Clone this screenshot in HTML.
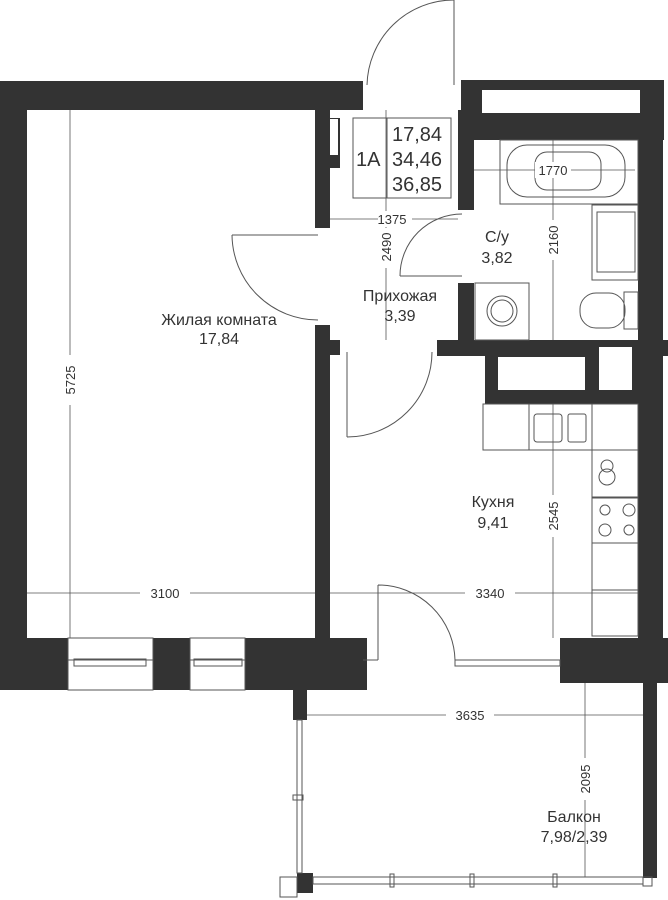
<!DOCTYPE html>
<html><head><meta charset="utf-8"><style>
html,body{margin:0;padding:0;background:#fff}
svg{display:block}
text{font-family:"Liberation Sans",sans-serif;fill:#333}
</style></head><body>
<svg width="668" height="900" viewBox="0 0 668 900" xmlns="http://www.w3.org/2000/svg">
<g fill="#333">
<rect x="0" y="81" width="363" height="29"/>
<rect x="0" y="81" width="27" height="580"/>
<rect x="315" y="110" width="15" height="118"/>
<rect x="328" y="118" width="12" height="50"/>
<rect x="315" y="325" width="15" height="315"/>
<rect x="328" y="340" width="12" height="15"/>
<rect x="458" y="110" width="16" height="100"/>
<rect x="461" y="81" width="13" height="30"/>
<rect x="461" y="80" width="203" height="60"/>
<rect x="458" y="283" width="16" height="60"/>
<rect x="437" y="340" width="231" height="16"/>
<rect x="638" y="80" width="25" height="570"/>
<rect x="485" y="356" width="153" height="48"/>
<rect x="0" y="638" width="68" height="52"/>
<rect x="153" y="638" width="37" height="52"/>
<rect x="245" y="638" width="122" height="52"/>
<rect x="293" y="690" width="14" height="30"/>
<rect x="560" y="638" width="108" height="45"/>
<rect x="643" y="683" width="14" height="195"/>
<rect x="297" y="873" width="16" height="20"/>
</g>
<g fill="#fff">
<rect x="330" y="119" width="8" height="36"/>
<rect x="482" y="90" width="158" height="23"/>
<rect x="498" y="357" width="87" height="33"/>
<rect x="599" y="347" width="33" height="43"/>
</g>
<g fill="none" stroke="#555" stroke-width="1">
<rect x="68" y="638" width="85" height="52"/><line x1="68" y1="660" x2="153" y2="660"/><rect x="74" y="659" width="72" height="7"/>
<rect x="190" y="638" width="55" height="52"/><line x1="190" y1="660" x2="245" y2="660"/><rect x="194" y="659" width="48" height="7"/>
<rect x="455" y="660" width="105" height="6"/>
<line x1="363" y1="660" x2="378" y2="660"/>
<path d="M367 85 A87 87 0 0 1 454 0"/><line x1="454" y1="0" x2="454" y2="85"/>
<path d="M232 235 L318 235 M232 235 A86 86 0 0 0 318 320"/>
<path d="M400 276 L462 276 M400 276 A62 62 0 0 1 462 214"/>
<path d="M347 352 L347 437 M347 437 A85 85 0 0 0 432 352"/>
<path d="M378 585 L378 660 M378 585 A77 77 0 0 1 455 660"/>
<rect x="297" y="720" width="5" height="153"/>
<rect x="293" y="795" width="10" height="5"/>
<rect x="313" y="877" width="330" height="7"/>
<rect x="390" y="874" width="4" height="13"/><rect x="470" y="874" width="4" height="13"/><rect x="553" y="874" width="4" height="13"/>
<rect x="280" y="877" width="17" height="20"/><rect x="643" y="877" width="9" height="9"/>
<rect x="353" y="118" width="98" height="80"/>
<line x1="387" y1="118" x2="387" y2="198"/>
<rect x="500" y="140" width="138" height="64"/>
<rect x="507" y="145" width="118" height="52" rx="20"/>
<rect x="535" y="152" width="66" height="38" rx="12"/>
<rect x="592" y="205" width="46" height="75"/><rect x="597" y="212" width="38" height="60"/>
<rect x="475" y="283" width="54" height="57"/><circle cx="502" cy="311" r="15"/><circle cx="502" cy="311" r="11"/>
<rect x="580" y="293" width="45" height="35" rx="16"/><rect x="624" y="292" width="14" height="37"/>
<rect x="483" y="404" width="155" height="46"/>
<line x1="529" y1="404" x2="529" y2="450"/><line x1="592" y1="404" x2="592" y2="450"/>
<rect x="534" y="414" width="28" height="28" rx="3"/>
<rect x="568" y="414" width="18" height="28" rx="2"/>
<rect x="592" y="450" width="46" height="48"/>
<circle cx="607" cy="466" r="6"/><circle cx="607" cy="477" r="8"/>
<rect x="592" y="497" width="46" height="46"/>
<circle cx="605" cy="510" r="5"/><circle cx="629" cy="510" r="6"/><circle cx="605" cy="530" r="6"/><circle cx="629" cy="530" r="5"/>
<rect x="592" y="543" width="46" height="47"/>
<rect x="592" y="590" width="46" height="46"/>
</g>
<g stroke="#555" stroke-width="0.8" fill="none">
<line x1="70" y1="110" x2="70" y2="638"/>
<line x1="27" y1="593" x2="315" y2="593"/>
<line x1="330" y1="593" x2="638" y2="593"/>
<line x1="330" y1="219" x2="458" y2="219"/>
<line x1="386" y1="110" x2="386" y2="340"/>
<line x1="474" y1="170" x2="635" y2="170"/>
<line x1="553" y1="140" x2="553" y2="340"/>
<line x1="553" y1="404" x2="553" y2="638"/>
<line x1="307" y1="715" x2="643" y2="715"/>
<line x1="585" y1="683" x2="585" y2="877"/>
</g>
<g font-size="13" text-anchor="middle">
<rect x="140" y="585" width="50" height="16" fill="#fff"/><text x="165" y="598">3100</text>
<rect x="465" y="585" width="50" height="16" fill="#fff"/><text x="490" y="598">3340</text>
<rect x="378" y="211" width="34" height="16" fill="#fff"/><text x="392" y="224">1375</text>
<rect x="535" y="162" width="36" height="16" fill="#fff"/><text x="553" y="175">1770</text>
<rect x="446" y="707" width="48" height="16" fill="#fff"/><text x="470" y="720">3635</text>
<rect x="62" y="355" width="16" height="50" fill="#fff"/><text transform="translate(75,380) rotate(-90)">5725</text>
<rect x="378" y="228" width="16" height="40" fill="#fff"/><text transform="translate(391,247) rotate(-90)">2490</text>
<rect x="545" y="220" width="16" height="40" fill="#fff"/><text transform="translate(558,240) rotate(-90)">2160</text>
<rect x="545" y="495" width="16" height="42" fill="#fff"/><text transform="translate(558,516) rotate(-90)">2545</text>
<rect x="577" y="758" width="16" height="42" fill="#fff"/><text transform="translate(590,779) rotate(-90)">2095</text>
</g>
<g font-size="16" text-anchor="middle">
<text x="219" y="325">Жилая комната</text><text x="219" y="344">17,84</text>
<text x="400" y="301">Прихожая</text><text x="400" y="321">3,39</text>
<text x="497" y="242">С/у</text><text x="497" y="263">3,82</text>
<text x="493" y="507">Кухня</text><text x="493" y="528">9,41</text>
<text x="574" y="822">Балкон</text><text x="574" y="842">7,98/2,39</text>
</g>
<g font-size="20">
<text x="356" y="166">1А</text>
<text x="392" y="141">17,84</text>
<text x="392" y="166">34,46</text>
<text x="392" y="191">36,85</text>
</g>
</svg>
</body></html>
